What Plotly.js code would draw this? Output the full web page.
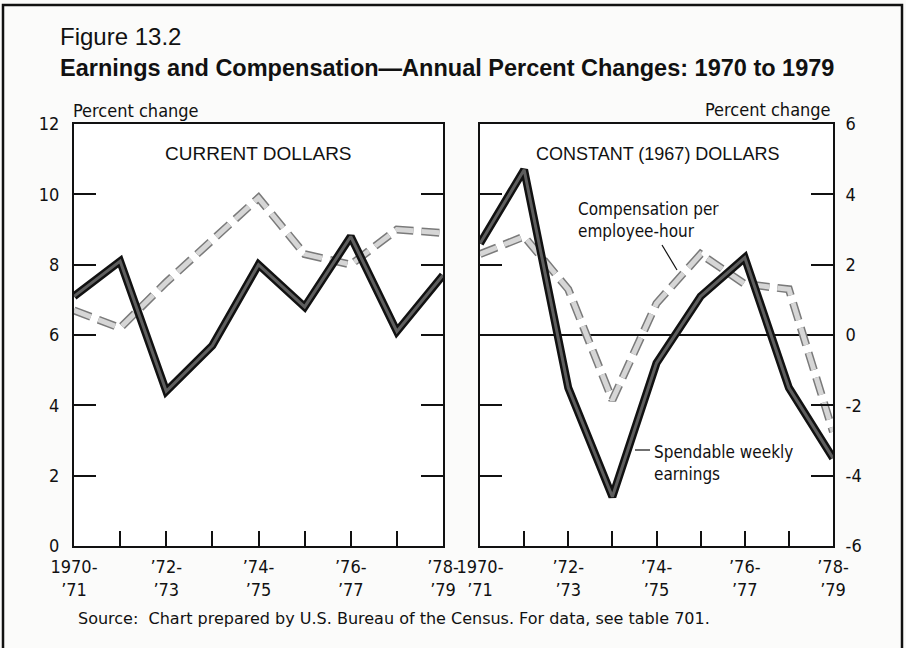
<!DOCTYPE html>
<html>
<head>
<meta charset="utf-8">
<script src="https://cdn.plot.ly/plotly-3.0.1.min.js"></script>
<style>
html,body{margin:0;padding:0;background:#fbfbfa;}
#chart{width:906px;height:648px;}
</style>
</head>
<body>
<div id="chart"></div>
<script>
// ---- data ----
var periods = ["1970-71","1971-72","1972-73","1973-74","1974-75","1975-76","1976-77","1977-78","1978-79"];
var xTickLabels = ["1970-<br>\u201971","","\u201972-<br>\u201973","","\u201974-<br>\u201975","","\u201976-<br>\u201977","","\u201978-<br>\u201979"];
var currentSpendable = [7.1, 8.1, 4.4, 5.7, 8.0, 6.8, 8.8, 6.1, 7.7];
var currentComp      = [6.7, 6.2, 7.5, 8.7, 9.9, 8.3, 8.0, 9.0, 8.9];
var constantSpendable = [2.6, 4.7, -1.5, -4.6, -0.8, 1.1, 2.2, -1.5, -3.5];
var constantComp      = [2.3, 2.8, 1.3, -1.85, 0.9, 2.3, 1.45, 1.3, -2.75];
var leftTickVals = [0, 2, 4, 6, 8, 10, 12];
var leftTickText = ["0", "2", "4", "6", "8", "10", "12"];
var rightTickVals = [-6, -4, -2, 0, 2, 4, 6];
var rightTickText = ["-6", "-4", "-2", "0", "2", "4", "6"];

var xIdx = periods.map(function(p, i){ return i; });
var W = 906, H = 648;
function px(x){ return x / W; }
function py(y){ return 1 - y / H; }

var narrow = "DejaVu Sans Condensed, Liberation Sans Narrow, Arial Narrow, sans-serif";
var sans = "Liberation Sans, Arial, Helvetica, sans-serif";

function solid(x, y, xa, ya){
  return [
    {x:x, y:y, xaxis:xa, yaxis:ya, mode:"lines", line:{color:"#111", width:8}, hoverinfo:"skip", showlegend:false},
    {x:x, y:y, xaxis:xa, yaxis:ya, mode:"lines", line:{color:"#5e5e5e", width:3}, hoverinfo:"skip", showlegend:false}
  ];
}
function dashed(x, y, xa, ya){
  return [
    {x:x, y:y, xaxis:xa, yaxis:ya, mode:"lines", line:{color:"#7a7a7a", width:8, dash:"18px,8px"}, hoverinfo:"skip", showlegend:false},
    {x:x, y:y, xaxis:xa, yaxis:ya, mode:"lines", line:{color:"#d6d6d6", width:5, dash:"18px,8px"}, hoverinfo:"skip", showlegend:false}
  ];
}

var data = [].concat(
  dashed(xIdx, currentComp, "x", "y"),
  solid(xIdx, currentSpendable, "x", "y"),
  dashed(xIdx, constantComp, "x2", "y2"),
  solid(xIdx, constantSpendable, "x2", "y2")
);

var yTop = py(124), yBot = py(546);
var xaxisBase = {
  range:[0, 8], tickvals: xIdx, ticktext: xTickLabels, tickmode:"array",
  ticks:"inside", ticklen:15, tickwidth:2, tickcolor:"#111",
  showline:true, linewidth:2, linecolor:"#111", mirror:true,
  showgrid:false, zeroline:false, fixedrange:true, ticklabelstandoff:3,
  tickfont:{family:narrow, size:18, color:"#111"}
};
var yaxisBase = {
  ticks:"inside", ticklen:22, tickwidth:2, tickcolor:"#111",
  showline:true, linewidth:2, linecolor:"#111", mirror:"ticks",
  showgrid:false, fixedrange:true, tickmode:"array",
  tickfont:{family:narrow, size:18, color:"#111"}
};

var layout = {
  width: W, height: H,
  margin:{l:0, r:0, t:0, b:0},
  paper_bgcolor:"#fbfbfa", plot_bgcolor:"#ffffff",
  showlegend:false,
  xaxis: Object.assign({}, xaxisBase, {domain:[px(74), px(443)], anchor:"y"}),
  xaxis2: Object.assign({}, xaxisBase, {domain:[px(480), px(833)], anchor:"y2"}),
  yaxis: Object.assign({}, yaxisBase, {domain:[yBot, yTop], range:[0, 12], tickvals:leftTickVals, ticktext:leftTickText, zeroline:false, anchor:"x", ticklabelstandoff:9}),
  yaxis2: Object.assign({}, yaxisBase, {domain:[yBot, yTop], range:[-6, 6], tickvals:rightTickVals, ticktext:rightTickText, side:"right", zeroline:true, zerolinecolor:"#111", zerolinewidth:1.5, anchor:"x2", ticklabelstandoff:7}),
  shapes:[
    {type:"rect", xref:"paper", yref:"paper", x0:px(3), x1:px(902), y0:-0.02, y1:py(5), line:{color:"#111", width:2.5}},
    {type:"line", xref:"paper", yref:"paper", x0:px(662), y0:py(245), x1:px(677), y1:py(270), line:{color:"#111", width:1.2}},
    {type:"line", xref:"paper", yref:"paper", x0:px(635), y0:py(450), x1:px(650), y1:py(450), line:{color:"#111", width:1.2}}
  ],
  annotations:[
    {text:"Figure 13.2", xref:"paper", yref:"paper", x:px(58), y:py(36), xanchor:"left", yanchor:"middle", showarrow:false, font:{family:sans, size:24, color:"#111"}},
    {text:"<b>Earnings and Compensation\u2014Annual Percent Changes: 1970 to 1979</b>", xref:"paper", yref:"paper", x:px(58), y:py(68), xanchor:"left", yanchor:"middle", showarrow:false, font:{family:sans, size:23.5, color:"#111"}},
    {text:"Percent change", xref:"paper", yref:"paper", x:px(71), y:py(111), xanchor:"left", yanchor:"middle", showarrow:false, font:{family:narrow, size:18, color:"#111"}},
    {text:"Percent change", xref:"paper", yref:"paper", x:px(833), y:py(110), xanchor:"right", yanchor:"middle", showarrow:false, font:{family:narrow, size:18, color:"#111"}},
    {text:"CURRENT DOLLARS", xref:"paper", yref:"paper", x:px(258), y:py(154), xanchor:"center", yanchor:"middle", showarrow:false, font:{family:sans, size:19, color:"#111"}},
    {text:"CONSTANT (1967) DOLLARS", xref:"paper", yref:"paper", x:px(657), y:py(154), xanchor:"center", yanchor:"middle", showarrow:false, font:{family:sans, size:18, color:"#111"}},
    {text:"Compensation per<br>employee-hour", xref:"paper", yref:"paper", x:px(576), y:py(220), xanchor:"left", yanchor:"middle", align:"left", showarrow:false, font:{family:narrow, size:17, color:"#111"}},
    {text:"Spendable weekly<br>earnings", xref:"paper", yref:"paper", x:px(652), y:py(463), xanchor:"left", yanchor:"middle", align:"left", showarrow:false, font:{family:narrow, size:17, color:"#111"}},
    {text:"Source:  Chart prepared by U.S. Bureau of the Census. For data, see table 701.", xref:"paper", yref:"paper", x:px(76), y:py(618), xanchor:"left", yanchor:"middle", showarrow:false, font:{family:"DejaVu Sans, sans-serif", size:16, color:"#111"}}
  ]
};

Plotly.newPlot("chart", data, layout, {displayModeBar:false, staticPlot:true});
</script>
</body>
</html>
